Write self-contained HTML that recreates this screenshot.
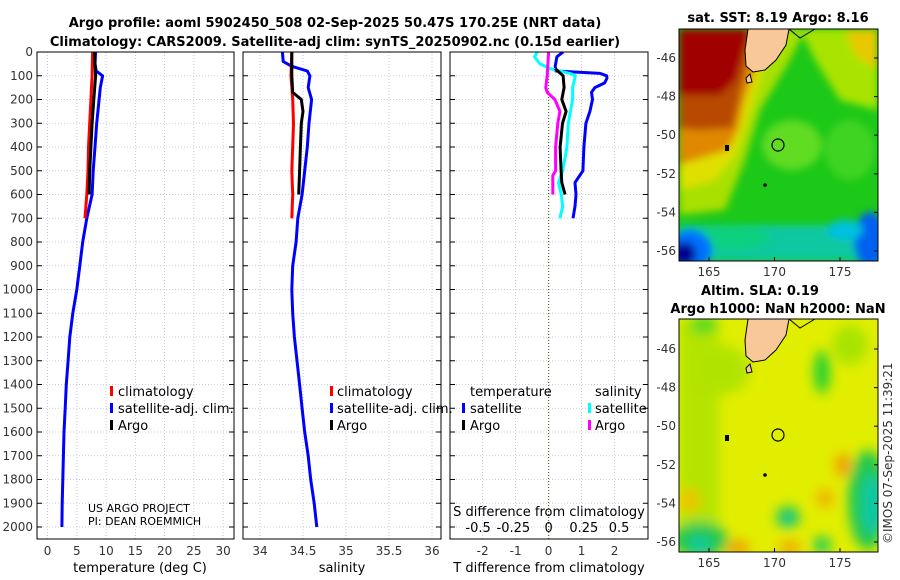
<!DOCTYPE html>
<html><head><meta charset="utf-8">
<style>
html,body{margin:0;padding:0;background:#fff;}
svg{display:block;font-family:"DejaVu Sans","Liberation Sans",sans-serif;}
.tl{font-size:12px;fill:#333;}
.ttl{font-size:13px;font-weight:bold;fill:#000;}
.lg{font-size:13px;fill:#000;}
.grid{stroke:#b8bfdc;stroke-width:0.8;stroke-dasharray:1,2;}
</style></head>
<body>
<svg id="fig" width="900" height="580" viewBox="0 0 900 580">
  <defs>
    <clipPath id="c1"><rect x="37" y="52" width="197" height="487"/></clipPath>
    <clipPath id="c2"><rect x="243" y="52" width="198" height="487"/></clipPath>
    <clipPath id="c3"><rect x="450" y="52" width="198" height="487"/></clipPath>
    <clipPath id="m1"><rect x="679" y="29" width="199" height="232"/></clipPath>
    <clipPath id="m2"><rect x="679" y="319" width="199" height="233"/></clipPath>
    <filter id="bl" x="-20%" y="-20%" width="140%" height="140%"><feGaussianBlur stdDeviation="4"/></filter>
    <filter id="bl2" x="-50%" y="-50%" width="200%" height="200%"><feGaussianBlur stdDeviation="6"/></filter>
  </defs>

  <text class="ttl" x="335" y="27" text-anchor="middle">Argo profile: aoml 5902450_508 02-Sep-2025 50.47S 170.25E (NRT data)</text>
  <text class="ttl" x="335" y="46" text-anchor="middle">Climatology: CARS2009. Satellite-adj clim: synTS_20250902.nc (0.15d earlier)</text>

  <g id="grids"></g>
  <g id="series"></g>
  <g id="axes"></g>

  <!-- legends -->
  <g>
    <rect x="110" y="386" width="3" height="10" fill="#f00"/><text class="lg" x="118" y="396">climatology</text>
    <rect x="110" y="403" width="3" height="10" fill="#00f"/><text class="lg" x="118" y="413">satellite-adj. clim.</text>
    <rect x="110" y="420" width="3" height="10" fill="#000"/><text class="lg" x="118" y="430">Argo</text>
  </g>
  <g>
    <rect x="330" y="386" width="3" height="10" fill="#f00"/><text class="lg" x="337" y="396">climatology</text>
    <rect x="330" y="403" width="3" height="10" fill="#00f"/><text class="lg" x="337" y="413">satellite-adj. clim.</text>
    <rect x="330" y="420" width="3" height="10" fill="#000"/><text class="lg" x="337" y="430">Argo</text>
  </g>
  <g>
    <text class="lg" x="470" y="396">temperature</text>
    <rect x="462" y="403" width="3" height="10" fill="#00f"/><text class="lg" x="470" y="413">satellite</text>
    <rect x="462" y="420" width="3" height="10" fill="#000"/><text class="lg" x="470" y="430">Argo</text>
    <text class="lg" x="595" y="396">salinity</text>
    <rect x="588" y="403" width="3" height="10" fill="#0ff"/><text class="lg" x="595" y="413">satellite</text>
    <rect x="588" y="420" width="3" height="10" fill="#f0f"/><text class="lg" x="595" y="430">Argo</text>
  </g>
  <text x="88" y="512" font-size="11" fill="#000">US ARGO PROJECT</text>
  <text x="88" y="525" font-size="11" fill="#000">PI: DEAN ROEMMICH</text>
  <text class="lg" x="549" y="516" text-anchor="middle">S difference from climatology</text>
  <text x="140" y="572" class="lg" text-anchor="middle" fill="#333">temperature (deg C)</text>
  <text x="342" y="572" class="lg" text-anchor="middle">salinity</text>
  <text x="549" y="572" class="lg" text-anchor="middle">T difference from climatology</text>

  <!-- Map 1: SST -->
  <text class="ttl" x="778" y="22" text-anchor="middle">sat. SST: 8.19 Argo: 8.16</text>
  <g clip-path="url(#m1)">
    <rect x="679" y="29" width="199" height="232" fill="#1cc818"/>
    <g filter="url(#bl)">
      <ellipse cx="792" cy="145" rx="30" ry="25" fill="#60dc20"/>
      <ellipse cx="850" cy="150" rx="25" ry="30" fill="#40d420"/>
      <polygon points="800,29 878,29 878,110 840,100 815,60" fill="#a8e400"/>
      <polygon points="845,29 878,29 878,70 855,55" fill="#e8c800"/>
      <polygon points="679,29 805,29 790,60 760,110 745,160 725,210 679,215" fill="#a8e000"/>
      <polygon points="679,29 775,29 750,110 735,155 715,180 679,190" fill="#e0e000"/>
      <polygon points="679,29 768,29 745,100 738,130 728,150 679,165" fill="#e08800"/>
      <polygon points="679,29 755,29 740,95 733,128 700,130 679,128" fill="#b84800"/>
      <polygon points="679,29 750,29 736,80 720,95 679,95" fill="#a00000"/>
      <polygon points="679,225 878,225 878,261 679,261" fill="#10c8a0"/>
      <ellipse cx="730" cy="238" rx="40" ry="12" fill="#10d080"/>
      <ellipse cx="690" cy="250" rx="22" ry="20" fill="#0070ff"/>
      <ellipse cx="684" cy="254" rx="12" ry="12" fill="#000090"/>
      <ellipse cx="870" cy="240" rx="16" ry="28" fill="#0060f0"/>
      <ellipse cx="845" cy="230" rx="18" ry="10" fill="#00c0e0"/>
    </g>
    <polygon points="748,29 789,29 786,45 776,60 765,70 753,72 746,66 745,50" fill="#f8c898" stroke="#000" stroke-width="1"/>
    <polyline points="789,29 800,38 810,32 815,29" fill="none" stroke="#000" stroke-width="1"/>
    <polygon points="746,78 750,74 752,82 747,83" fill="#f8c898" stroke="#000" stroke-width="1"/>
    <rect x="725" y="145" width="4" height="6" fill="#000"/>
    <circle cx="765" cy="185" r="1.8" fill="#000"/>
    <circle cx="778" cy="145" r="6" fill="none" stroke="#000" stroke-width="1.2"/>
  </g>
  <rect x="679" y="29" width="199" height="232" fill="none" stroke="#000" stroke-width="1"/>

  <!-- Map 2: SLA -->
  <text class="ttl" x="760" y="295" text-anchor="middle">Altim. SLA: 0.19</text>
  <text class="ttl" x="778" y="313" text-anchor="middle">Argo h1000: NaN h2000: NaN</text>
  <g clip-path="url(#m2)">
    <rect x="679" y="319" width="199" height="233" fill="#e2ee00"/>
    <g filter="url(#bl2)">
      <rect x="679" y="319" width="40" height="233" fill="#b4e400"/>
      <ellipse cx="720" cy="370" rx="30" ry="25" fill="#b0e400"/>
      <ellipse cx="822" cy="372" rx="8" ry="22" fill="#20d030"/>
      <ellipse cx="704" cy="325" rx="14" ry="8" fill="#40d820"/>
      <ellipse cx="850" cy="345" rx="18" ry="20" fill="#a8e400"/>
      <ellipse cx="868" cy="500" rx="20" ry="50" fill="#20c850"/>
      <ellipse cx="872" cy="505" rx="10" ry="30" fill="#10c8a8"/>
      <ellipse cx="700" cy="540" rx="28" ry="18" fill="#20c850"/>
      <ellipse cx="700" cy="545" rx="10" ry="8" fill="#10c8a8"/>
      <ellipse cx="788" cy="517" rx="12" ry="11" fill="#20c850"/>
      <ellipse cx="788" cy="519" rx="6" ry="5" fill="#10c8b0"/>
      <ellipse cx="822" cy="545" rx="9" ry="8" fill="#10c860"/>
      <ellipse cx="843" cy="465" rx="8" ry="12" fill="#f0a000"/>
      <ellipse cx="825" cy="498" rx="9" ry="9" fill="#f0b000"/>
      <ellipse cx="738" cy="548" rx="12" ry="8" fill="#f0a000"/>
      <ellipse cx="790" cy="548" rx="12" ry="7" fill="#f0a800"/>
      <ellipse cx="690" cy="500" rx="10" ry="12" fill="#f0c000"/>
    </g>
    <g transform="translate(0,290)">
      <polygon points="748,29 789,29 786,45 776,60 765,70 753,72 746,66 745,50" fill="#f8c898" stroke="#000" stroke-width="1"/>
      <polyline points="789,29 800,38 810,32 815,29" fill="none" stroke="#000" stroke-width="1"/>
      <polygon points="746,78 750,74 752,82 747,83" fill="#f8c898" stroke="#000" stroke-width="1"/>
      <rect x="725" y="145" width="4" height="6" fill="#000"/>
      <circle cx="765" cy="185" r="1.8" fill="#000"/>
      <circle cx="778" cy="145" r="6" fill="none" stroke="#000" stroke-width="1.2"/>
    </g>
  </g>
  <rect x="679" y="319" width="199" height="233" fill="none" stroke="#000" stroke-width="1"/>
  <text x="0" y="0" font-size="12" fill="#333" transform="translate(892,544) rotate(-90)">©IMOS 07-Sep-2025 11:39:21</text>
  <g id="mapaxes"></g>
</svg>
<script>
// ---- data ----
const depths = [0,100,200,300,400,500,600,700,800,900,1000,1100,1200,1300,1400,1500,1600,1700,1800,1900,2000];
const climTempDepth = [0,100,200,300,400,500,600,700];
const climTemp = [7.7,7.6,7.4,7.2,7.0,6.9,6.7,6.4];
const argoTempDepth = [0,100,200,300,400,500,600];
const argoTemp = [8.0,8.2,7.9,7.6,7.4,7.2,7.1];
const satTempDepth = [0,50,80,100,150,200,300,400,500,600,700,800,900,1000,1100,1200,1300,1400,1500,1600,1700,1800,1900,2000];
const satTemp = [8.2,8.1,8.3,9.4,9.0,8.8,8.4,8.1,7.8,7.6,6.7,6.0,5.5,5.0,4.3,3.8,3.5,3.2,3.0,2.8,2.7,2.6,2.5,2.45];
const climSalDepth = [0,100,200,300,400,500,600,700];
const climSal = [34.37,34.36,34.38,34.39,34.38,34.37,34.38,34.37];
const argoSalDepth = [0,100,170,200,250,300,400,500,600];
const argoSal = [34.37,34.37,34.38,34.48,34.50,34.48,34.47,34.46,34.45];
const satSalDepth = [0,40,60,80,100,150,200,300,400,500,600,700,800,900,1000,1100,1200,1300,1400,1500,1600,1700,1800,1900,2000];
const satSal = [34.26,34.27,34.37,34.55,34.58,34.56,34.60,34.57,34.55,34.52,34.49,34.44,34.42,34.38,34.37,34.38,34.40,34.43,34.46,34.49,34.52,34.56,34.59,34.63,34.66];
const satTdiffDepth = [0,20,60,80,90,100,110,130,150,170,200,250,300,400,500,550,600,650,700];
const satTdiff = [0.44,0.25,0.2,0.22,1.56,1.76,1.77,1.7,1.4,1.3,1.33,1.25,1.13,1.07,1.04,0.8,0.83,0.8,0.74];
const argoTdiffDepth = [70,100,150,200,250,300,400,500,550,600];
const argoTdiff = [0.2,0.44,0.47,0.4,0.53,0.42,0.35,0.38,0.4,0.5];
const satSdiffDepth = [0,20,50,70,90,100,150,200,300,400,500,550,600,650,700];
const satSdiff = [-0.08,-0.1,-0.06,0.01,0.15,0.19,0.17,0.17,0.14,0.13,0.1,0.07,0.09,0.1,0.08];
const argoSdiffDepth = [0,100,150,170,200,250,300,400,500,520,600];
const argoSdiff = [0.0,-0.01,-0.02,-0.01,0.045,0.08,0.065,0.05,0.05,0.03,0.03];
const tempTicks = [0,5,10,15,20,25,30];
const salTicks = [34,34.5,35,35.5,36];
const tdiffTicks = [-2,-1,0,1,2];
const sdiffTicks = [-0.5,-0.25,0,0.25,0.5];
const lonTicks = [165,170,175];
const latTicks = [-46,-48,-50,-52,-54,-56];

// ---- scales ----
const yD = d => 52 + d*0.2375;
const xT = t => 47.6 + t*5.85;
const xS = s => 260 + (s-34)*86;
const xTd = t => 548.6 + t*33;
const xSd = s => 548.6 + s*141;
const xLon = l => 709 + (l-165)*13.1;
const yLat1 = l => 58 + (-46-l)*19.3;
const yLat2 = l => 349 + (-46-l)*19.3;

const NS = 'http://www.w3.org/2000/svg';
function mk(tag, attrs, parent){
  const e = document.createElementNS(NS, tag);
  for (const k in attrs) e.setAttribute(k, attrs[k]);
  parent.appendChild(e);
  return e;
}
const grids = document.getElementById('grids');
const series = document.getElementById('series');
const axes = document.getElementById('axes');
const mapaxes = document.getElementById('mapaxes');

const panels = [
  {x0:37,x1:234,ticks:tempTicks,sc:xT,fmt:v=>String(v)},
  {x0:243,x1:441,ticks:salTicks,sc:xS,fmt:v=>String(v)},
  {x0:450,x1:648,ticks:tdiffTicks,sc:xTd,fmt:v=>String(v)}
];
panels.forEach((p,i)=>{
  depths.forEach(d=>{
    const g = mk('line',{x1:p.x0,x2:p.x1,y1:yD(d),y2:yD(d),class:'grid'},grids);
    
    
    const t1 = mk('line',{x1:p.x0,x2:p.x0+5,y1:yD(d),y2:yD(d),stroke:'#000'},axes);
    
    
    const t2 = mk('line',{x1:p.x1-5,x2:p.x1,y1:yD(d),y2:yD(d),stroke:'#000'},axes);
    
    
  });
  p.ticks.forEach(v=>{
    const x = p.sc(v);
    const g = mk('line',{x1:x,x2:x,y1:52,y2:539,class:'grid'},grids);
    
    
    const lb = mk('text',{x:x,y:555,class:'tl','text-anchor':'middle'},axes);
    lb.textContent = p.fmt(v);
    
    
  });
  const fr = mk('rect',{x:p.x0,y:52,width:p.x1-p.x0,height:487,fill:'none',stroke:'#000','stroke-width':1},axes);
  
  
});
depths.forEach(d=>{
  const lb = mk('text',{x:33,y:yD(d)+4,class:'tl','text-anchor':'end'},axes);
  lb.textContent = String(d);
  
  
});
sdiffTicks.forEach(v=>{
  const lb = mk('text',{x:xSd(v),y:532,class:'lg','text-anchor':'middle'},axes);
  lb.textContent = String(v);
  
  
});
const zl = mk('line',{x1:xTd(0),x2:xTd(0),y1:52,y2:539,stroke:'#556b2f','stroke-width':1.2,'stroke-dasharray':'1,2'},grids);



function line(ds, vs, sc, color, clip, name, w){
  const pts = ds.map((d,i)=>sc(vs[i]).toFixed(1)+','+yD(d).toFixed(1)).join(' ');
  const e = mk('polyline',{points:pts,fill:'none',stroke:color,'stroke-width':w||3,'stroke-linejoin':'round','clip-path':'url(#'+clip+')'},series);
  
  
}
line(satTempDepth, satTemp, xT, '#0000ff', 'c1', 'temp-satellite-line');
line(climTempDepth, climTemp, xT, '#ff0000', 'c1', 'temp-climatology-line');
line(argoTempDepth, argoTemp, xT, '#000000', 'c1', 'temp-argo-line');
line(satSalDepth, satSal, xS, '#0000ff', 'c2', 'sal-satellite-line');
line(climSalDepth, climSal, xS, '#ff0000', 'c2', 'sal-climatology-line');
line(argoSalDepth, argoSal, xS, '#000000', 'c2', 'sal-argo-line');
line(satTdiffDepth, satTdiff, xTd, '#0000ff', 'c3', 'tdiff-satellite-line');
line(satSdiffDepth, satSdiff, xSd, '#00ffff', 'c3', 'sdiff-satellite-line');
line(argoTdiffDepth, argoTdiff, xTd, '#000000', 'c3', 'tdiff-argo-line');
line(argoSdiffDepth, argoSdiff, xSd, '#ff00ff', 'c3', 'sdiff-argo-line');

// map axes
[[yLat1,261],[yLat2,552]].forEach(([yl,bot])=>{
  lonTicks.forEach(l=>{
    const lb = mk('text',{x:xLon(l),y:bot+15,class:'tl','text-anchor':'middle'},mapaxes);
    lb.textContent = String(l);
    
    
    const t = mk('line',{x1:xLon(l),x2:xLon(l),y1:bot-4,y2:bot,stroke:'#000'},mapaxes);
    
    
  });
  latTicks.forEach(l=>{
    const lb = mk('text',{x:676,y:yl(l)+4,class:'tl','text-anchor':'end'},mapaxes);
    lb.textContent = String(l);
    
    
    const t = mk('line',{x1:874,x2:878,y1:yl(l),y2:yl(l),stroke:'#000'},mapaxes);
    
    
  });
});
</script>
</body></html>
